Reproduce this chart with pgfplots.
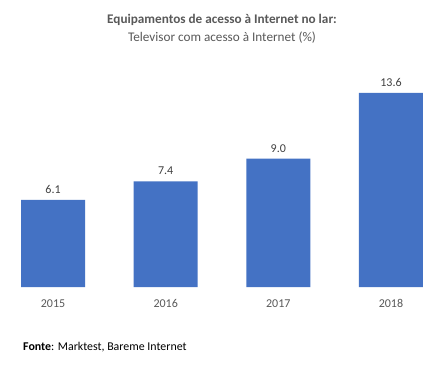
\documentclass[border=0pt]{standalone}
\usepackage{pgfplots}
\pgfplotsset{compat=1.18}
\usepackage{fontspec}
\setmainfont{Carlito}
\definecolor{barblue}{HTML}{4472C4}
\definecolor{txtgray}{HTML}{595959}
\definecolor{lblgray}{HTML}{404040}
\begin{document}
\begin{tikzpicture}[x=1pt,y=1pt]
\path[use as bounding box, fill=white] (0,0) rectangle (445,368);
\begin{axis}[
  at={(5.7pt,81pt)}, anchor=south west,
  scale only axis, width=432.6pt, height=206.9pt,
  xmin=-0.42, xmax=3.42, ymin=0, ymax=14.5,
  ybar, bar width=64pt, bar shift=0pt,
  axis line style={draw=none}, tick style={draw=none},
  ytick=\empty,
  xtick={0,1,2,3}, xticklabels={2015,2016,2017,2018},
  xticklabel style={font=\fontsize{12}{14}\selectfont, text=txtgray, text height=9pt, text depth=0pt, anchor=north, yshift=-4pt},
  /pgf/number format/assume math mode=true,
  nodes near coords,
  nodes near coords style={font=\fontsize{12}{14}\selectfont, text=lblgray, text height=9pt, text depth=0pt, yshift=3pt, /pgf/number format/.cd, fixed, fixed zerofill, precision=1, assume math mode=true},
  clip=false,
]
\addplot[fill=barblue, draw=none] coordinates {(0,6.1) (1,7.4) (2,9.0) (3,13.6)};
\end{axis}
\node[font=\bfseries\fontsize{13.2}{15}\selectfont, text=txtgray] at (222,348) {Equipamentos de acesso à Internet no lar:};
\node[font=\fontsize{13.2}{15}\selectfont, text=txtgray] at (222,330) {Televisor com acesso à Internet (\%)};
\node[font=\fontsize{11.9}{14}\selectfont, anchor=west, inner sep=0pt] at (23,21) {\textbf{Fonte}: Marktest, Bareme Internet};
\end{tikzpicture}
\end{document}
